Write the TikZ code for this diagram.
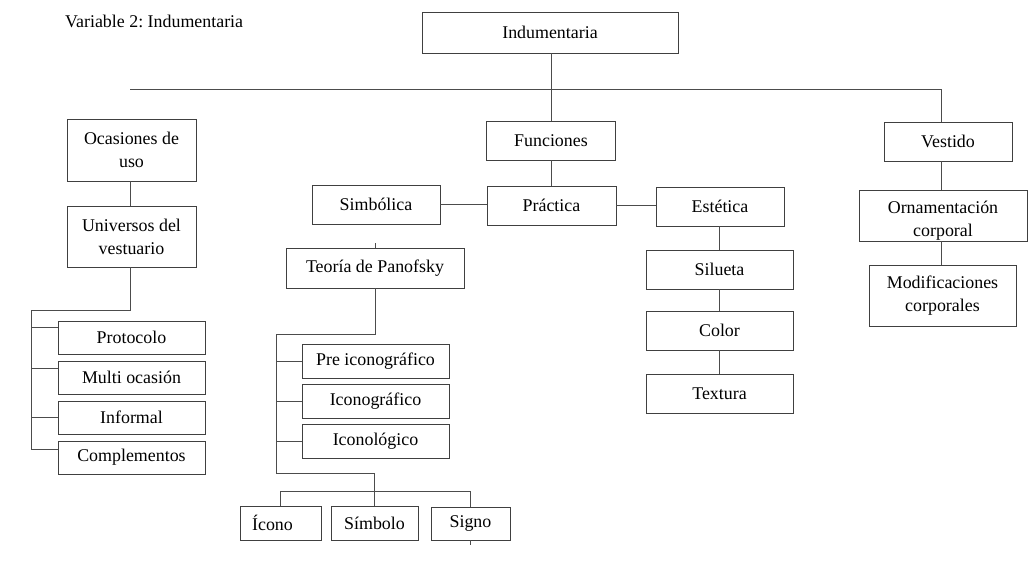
\documentclass[tikz,border=0pt]{standalone}
\usepackage{fontspec}
\setmainfont{Liberation Serif}
\frenchspacing
\begin{document}
\begin{tikzpicture}[x=1pt,y=-1pt,
  box/.style={draw=black!75, line width=0.9pt, fill=white, inner sep=0pt, align=center,
    font=\fontsize{17.9}{23}\selectfont},
  conn/.style={draw=black!70, line width=0.8pt},
  lbl/.style={inner sep=0pt, font=\fontsize{17.9}{23}\selectfont}]
\useasboundingbox (0,0) rectangle (1035,578);
% title
\node[lbl, anchor=base west] (title) at (65,28) {Variable 2: Indumentaria};
% boxes
\node[box, minimum width=256, minimum height=41] (ind) at (550,32.5) {Indumentaria};
\node[box, minimum width=129, minimum height=39] (fun) at (551,140.5) {Funciones};
\node[box, minimum width=129, minimum height=39] (pra) at (551.5,205.5) {Práctica};
\node[box, minimum width=128, minimum height=39] (sim) at (376,204.5) {Simbólica};
\node[box, minimum width=128, minimum height=39] (est) at (720,206.5) {Estética};
\node[box, minimum width=147, minimum height=39] (sil) at (719.5,269.5) {Silueta};
\node[box, minimum width=147, minimum height=39] (col) at (719.5,330.5) {Color};
\node[box, minimum width=147, minimum height=39] (tex) at (719.5,393.5) {Textura};
\node[box, minimum width=128, minimum height=39] (ves) at (948,141.5) {Vestido};
\node[box, minimum width=168, minimum height=51] (orn) at (943,215.5)
  {\raisebox{-5pt}[\height][\depth]{\begin{tabular}{@{}c@{}}Ornamentación\\corporal\end{tabular}}};
\node[box, minimum width=147, minimum height=61] (mod) at (942.5,295.5) {Modificaciones\\corporales};
\node[box, minimum width=129, minimum height=62] (oca) at (131.5,150) {Ocasiones de\\uso};
\node[box, minimum width=129, minimum height=61] (uni) at (131.5,236.5) {Universos del\\vestuario};
\node[box, minimum width=147, minimum height=33] (pro) at (131.5,337.5) {Protocolo};
\node[box, minimum width=147, minimum height=33] (mul) at (131.5,377.5) {Multi ocasión};
\node[box, minimum width=147, minimum height=33] (inf) at (131.5,417.5) {Informal};
\node[box, minimum width=147, minimum height=33] (com) at (131.5,457.5) {Complementos};
\node[box, minimum width=178, minimum height=40] (teo) at (375,268) {Teoría de Panofsky};
\node[box, minimum width=147, minimum height=34] (pre) at (375.5,361) {Pre iconográfico};
\node[box, minimum width=147, minimum height=34] (ico) at (375.5,401) {Iconográfico};
\node[box, minimum width=147, minimum height=34] (icl) at (375.5,441) {Iconológico};
\node[box, minimum width=81, minimum height=34] (icn) at (280.5,523) {\hspace*{-16pt}Ícono};
\node[box, minimum width=87, minimum height=34] (smb) at (374.5,523) {Símbolo};
\node[box, minimum width=79, minimum height=33] (sig) at (470.5,523.5) {Signo};
% coordinates
\coordinate (hl) at (130,89);
\coordinate (hr) at (941,89);
\coordinate (lt) at (31,310);
\coordinate (lb) at (31,449);
\coordinate (pt) at (276,334);
\coordinate (pb) at (276,473);
\coordinate (bb) at (0,491);
% connectors
\draw[conn] (ind.south -| fun.north) -- (fun.north);
\draw[conn] (hl) -- (hr) -- (hr |- ves.north);
\draw[conn] (fun.south) -- (fun.south |- pra.north);
\draw[conn] (sim.east) -- (sim.east -| pra.west);
\draw[conn] (pra.east) -- (pra.east -| est.west);
\draw[conn] (est.south -| sil.north) -- (sil.north);
\draw[conn] (sil.south) -- (col.north);
\draw[conn] (col.south) -- (tex.north);
\draw[conn] (ves.south -| hr) -- (orn.north -| hr);
\draw[conn] (orn.south -| hr) -- (mod.north -| hr);
\draw[conn] (oca.south -| hl) -- (uni.north -| hl);
\draw[conn] (uni.south -| hl) -- (hl |- lt) -- (lt) -- (lb) -- (lb -| com.west);
\draw[conn] ([yshift=10pt]pro.west) -- ++(-27,0);
\draw[conn] ([yshift=9.5pt]mul.west) -- ++(-27,0);
\draw[conn] (inf.west) -- ++(-27,0);
\draw[conn] (teo.north) -- ++(0,-5);
\draw[conn] (teo.south) -- (teo.south |- pt) -- (pt) -- (pb) -- (pb -| smb.north) -- (smb.north);
\draw[conn] (pre.west) -- (pre.west -| pt);
\draw[conn] (ico.west) -- (ico.west -| pt);
\draw[conn] (icl.west) -- (icl.west -| pt);
\draw[conn] (icn.north) -- (icn.north |- bb) -- (sig.north |- bb) -- (sig.north);
\draw[conn] (sig.south) -- ++(0,5);
\end{tikzpicture}
\end{document}
